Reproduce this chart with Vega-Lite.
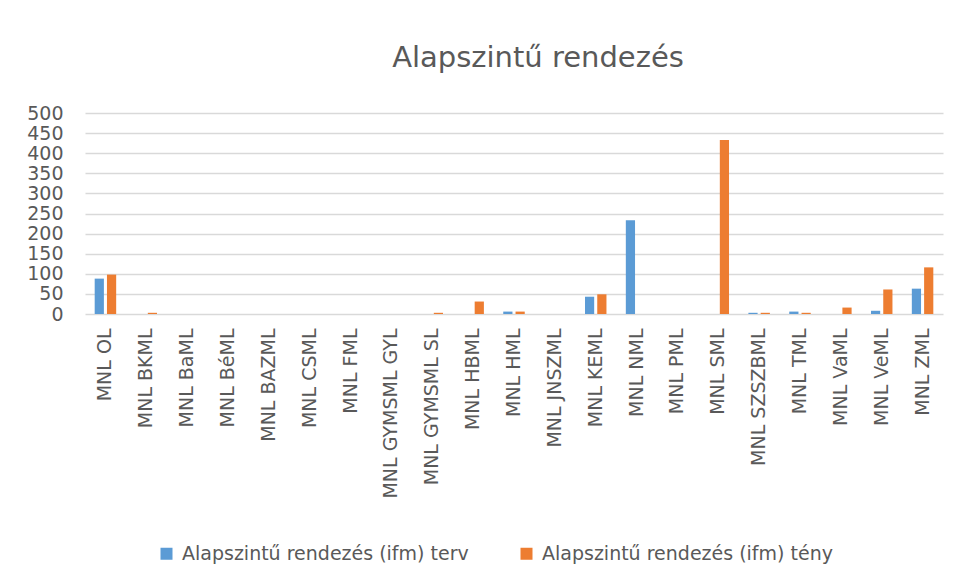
{
  "$schema": "https://vega.github.io/schema/vega-lite/v6.json",
  "autosize": {"type": "none"},
  "width": 858,
  "height": 201,
  "padding": {"left": 85, "top": 113, "right": 14, "bottom": 268},
  "background": "white",
  "title": {
    "text": "Alapszintű rendezés",
    "font": "DejaVu Sans",
    "fontSize": 29,
    "fontWeight": "normal",
    "color": "#595959",
    "anchor": "middle",
    "dx": 24,
    "offset": 31
  },
  "data": {
    "values": [
      {"cat": "MNL OL", "series": "Alapszintű rendezés (ifm) terv", "value": 88},
      {"cat": "MNL OL", "series": "Alapszintű rendezés (ifm) tény", "value": 98},
      {"cat": "MNL BKML", "series": "Alapszintű rendezés (ifm) terv", "value": 0},
      {"cat": "MNL BKML", "series": "Alapszintű rendezés (ifm) tény", "value": 3},
      {"cat": "MNL BaML", "series": "Alapszintű rendezés (ifm) terv", "value": 0},
      {"cat": "MNL BaML", "series": "Alapszintű rendezés (ifm) tény", "value": 0},
      {"cat": "MNL BéML", "series": "Alapszintű rendezés (ifm) terv", "value": 0},
      {"cat": "MNL BéML", "series": "Alapszintű rendezés (ifm) tény", "value": 0},
      {"cat": "MNL BAZML", "series": "Alapszintű rendezés (ifm) terv", "value": 0},
      {"cat": "MNL BAZML", "series": "Alapszintű rendezés (ifm) tény", "value": 0},
      {"cat": "MNL CSML", "series": "Alapszintű rendezés (ifm) terv", "value": 0},
      {"cat": "MNL CSML", "series": "Alapszintű rendezés (ifm) tény", "value": 0},
      {"cat": "MNL FML", "series": "Alapszintű rendezés (ifm) terv", "value": 0},
      {"cat": "MNL FML", "series": "Alapszintű rendezés (ifm) tény", "value": 0},
      {"cat": "MNL GYMSML GYL", "series": "Alapszintű rendezés (ifm) terv", "value": 0},
      {"cat": "MNL GYMSML GYL", "series": "Alapszintű rendezés (ifm) tény", "value": 0},
      {"cat": "MNL GYMSML SL", "series": "Alapszintű rendezés (ifm) terv", "value": 0},
      {"cat": "MNL GYMSML SL", "series": "Alapszintű rendezés (ifm) tény", "value": 3},
      {"cat": "MNL HBML", "series": "Alapszintű rendezés (ifm) terv", "value": 0},
      {"cat": "MNL HBML", "series": "Alapszintű rendezés (ifm) tény", "value": 31},
      {"cat": "MNL HML", "series": "Alapszintű rendezés (ifm) terv", "value": 6},
      {"cat": "MNL HML", "series": "Alapszintű rendezés (ifm) tény", "value": 6},
      {"cat": "MNL JNSZML", "series": "Alapszintű rendezés (ifm) terv", "value": 0},
      {"cat": "MNL JNSZML", "series": "Alapszintű rendezés (ifm) tény", "value": 0},
      {"cat": "MNL KEML", "series": "Alapszintű rendezés (ifm) terv", "value": 43},
      {"cat": "MNL KEML", "series": "Alapszintű rendezés (ifm) tény", "value": 49},
      {"cat": "MNL NML", "series": "Alapszintű rendezés (ifm) terv", "value": 233},
      {"cat": "MNL NML", "series": "Alapszintű rendezés (ifm) tény", "value": 0},
      {"cat": "MNL PML", "series": "Alapszintű rendezés (ifm) terv", "value": 0},
      {"cat": "MNL PML", "series": "Alapszintű rendezés (ifm) tény", "value": 0},
      {"cat": "MNL SML", "series": "Alapszintű rendezés (ifm) terv", "value": 0},
      {"cat": "MNL SML", "series": "Alapszintű rendezés (ifm) tény", "value": 433},
      {"cat": "MNL SZSZBML", "series": "Alapszintű rendezés (ifm) terv", "value": 3},
      {"cat": "MNL SZSZBML", "series": "Alapszintű rendezés (ifm) tény", "value": 3},
      {"cat": "MNL TML", "series": "Alapszintű rendezés (ifm) terv", "value": 6},
      {"cat": "MNL TML", "series": "Alapszintű rendezés (ifm) tény", "value": 3},
      {"cat": "MNL VaML", "series": "Alapszintű rendezés (ifm) terv", "value": 0},
      {"cat": "MNL VaML", "series": "Alapszintű rendezés (ifm) tény", "value": 16},
      {"cat": "MNL VeML", "series": "Alapszintű rendezés (ifm) terv", "value": 8},
      {"cat": "MNL VeML", "series": "Alapszintű rendezés (ifm) tény", "value": 61},
      {"cat": "MNL ZML", "series": "Alapszintű rendezés (ifm) terv", "value": 63},
      {"cat": "MNL ZML", "series": "Alapszintű rendezés (ifm) tény", "value": 116}
    ]
  },
  "mark": {"type": "bar"},
  "encoding": {
    "x": {
      "field": "cat",
      "type": "nominal",
      "sort": null,
      "scale": {"paddingInner": 0.474, "paddingOuter": 0.237},
      "axis": {
        "title": null,
        "labelAngle": -90,
        "labelFont": "DejaVu Sans",
        "labelFontSize": 19,
        "labelColor": "#595959",
        "labelPadding": 14,
        "labelLimit": 400,
        "ticks": false,
        "domain": false,
        "grid": false
      }
    },
    "xOffset": {
      "field": "series",
      "type": "nominal",
      "sort": null,
      "scale": {"paddingInner": 0.25, "paddingOuter": 0}
    },
    "y": {
      "field": "value",
      "type": "quantitative",
      "scale": {"domain": [0, 500], "nice": false},
      "axis": {
        "title": null,
        "values": [0, 50, 100, 150, 200, 250, 300, 350, 400, 450, 500],
        "labelFont": "DejaVu Sans",
        "labelFontSize": 19,
        "labelColor": "#595959",
        "labelPadding": 22,
        "ticks": false,
        "domain": false,
        "grid": true,
        "gridColor": "#D9D9D9",
        "gridWidth": 1.5
      }
    },
    "color": {
      "field": "series",
      "type": "nominal",
      "sort": null,
      "scale": {"range": ["#5B9BD5", "#ED7D31"]},
      "legend": {
        "title": null,
        "orient": "none",
        "legendX": 72,
        "legendY": 431,
        "direction": "horizontal",
        "symbolType": "square",
        "symbolSize": 144,
        "symbolStrokeWidth": 0,
        "labelFont": "DejaVu Sans",
        "labelFontSize": 19,
        "labelColor": "#595959",
        "labelOffset": 6,
        "labelLimit": 400,
        "columnPadding": 48
      }
    }
  },
  "config": {"view": {"stroke": null}}
}
